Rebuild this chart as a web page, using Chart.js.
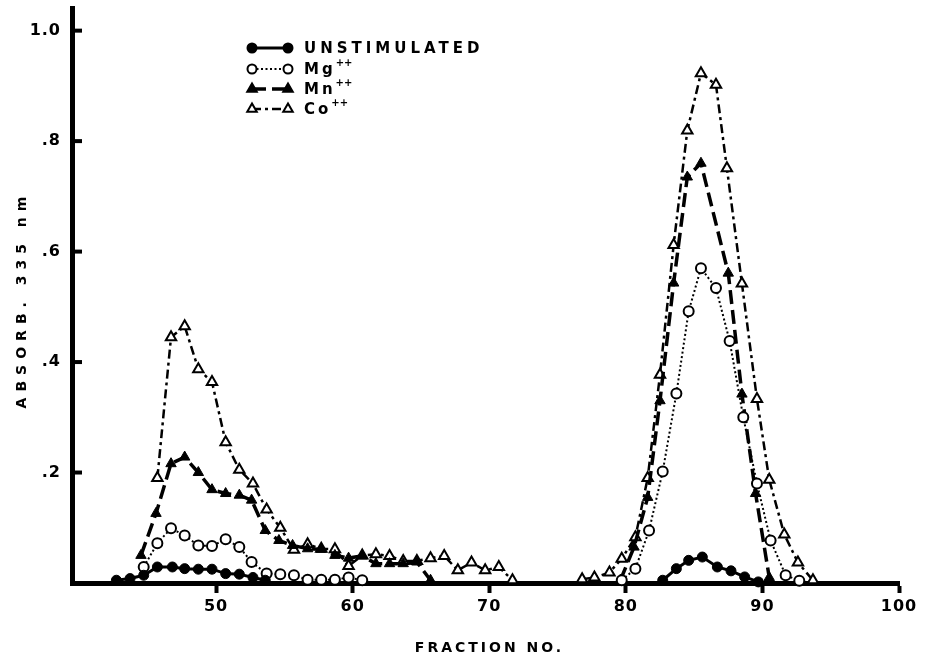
<!DOCTYPE html>
<html>
<head>
<meta charset="utf-8">
<script src="https://cdn.jsdelivr.net/npm/chart.js@4.4.1/dist/chart.umd.min.js"></script>
<style>
html, body { margin: 0; padding: 0; background: #fff; }
#wrap { width: 926px; height: 668px; position: relative; }
</style>
</head>
<body>
<div id="wrap"><canvas id="chart"></canvas></div>
<script>
// fraction numbers (null = gap in the curve)
const unstimFrac = [42.7, 43.7, 44.7, 45.7, 46.8, 47.7, 48.7, 49.7, 50.7, 51.7, 52.7, 53.6, 68,
    82.7, 83.7, 84.6, 85.6, 86.7, 87.7, 88.7, 89.7];
const unstimAbs = [0.005, 0.008, 0.014, 0.029, 0.029, 0.026, 0.025, 0.025, 0.017, 0.016, 0.01, 0.005, null,
    0.005, 0.026, 0.041, 0.047, 0.029, 0.022, 0.011, 0.002];

const mgFrac = [44.7, 45.7, 46.7, 47.7, 48.7, 49.7, 50.7, 51.7, 52.6, 53.7, 54.7, 55.7, 56.7, 57.7, 58.7, 59.7, 60.7, 70,
    79.7, 80.7, 81.7, 82.7, 83.7, 84.6, 85.5, 86.6, 87.6, 88.6, 89.6, 90.6, 91.7, 92.7];
const mgAbs = [0.029, 0.072, 0.099, 0.086, 0.068, 0.067, 0.079, 0.065, 0.038, 0.017, 0.016, 0.014, 0.006, 0.006, 0.006, 0.01, 0.005, null,
    0.005, 0.026, 0.095, 0.202, 0.343, 0.492, 0.57, 0.534, 0.438, 0.30, 0.18, 0.077, 0.014, 0.004];

const mnFrac = [44.5, 45.6, 46.7, 47.7, 48.7, 49.7, 50.7, 51.7, 52.6, 53.6, 54.6, 55.6, 56.7, 57.7, 58.7, 59.7, 60.7, 61.7, 62.7, 63.7, 64.7, 65.7, 72,
    79.6, 80.6, 81.6, 82.5, 83.5, 84.5, 85.5, 87.5, 88.5, 89.5, 90.5];
const mnAbs = [0.05, 0.126, 0.216, 0.228, 0.2, 0.169, 0.162, 0.159, 0.15, 0.095, 0.077, 0.068, 0.062, 0.061, 0.05, 0.045, 0.049, 0.035, 0.035, 0.035, 0.038, 0.005, null,
    0.005, 0.065, 0.155, 0.33, 0.543, 0.735, 0.76, 0.561, 0.342, 0.162, 0.01];

const coFrac = [45.7, 46.7, 47.7, 48.7, 49.7, 50.7, 51.7, 52.7, 53.7, 54.7, 55.7, 56.7, 57.7, 58.7, 59.7, 60.7, 61.7, 62.7, 63.7, 64.7, 65.7, 66.7, 67.7, 68.7, 69.7, 70.7, 71.7, 74,
    76.8, 77.7, 78.8, 79.7, 80.7, 81.6, 82.5, 83.5, 84.5, 85.5, 86.6, 87.4, 88.5, 89.6, 90.5, 91.6, 92.6, 93.7];
const coAbs = [0.19, 0.445, 0.465, 0.387, 0.364, 0.255, 0.205, 0.18, 0.133, 0.10, 0.06, 0.07, 0.062, 0.061, 0.031, 0.05, 0.052, 0.049, 0.04, 0.04, 0.045, 0.049, 0.023, 0.037, 0.023, 0.029, 0.005, null,
    0.007, 0.01, 0.019, 0.044, 0.083, 0.19, 0.377, 0.612, 0.819, 0.923, 0.902, 0.751, 0.542, 0.333, 0.187, 0.088, 0.037, 0.005];

const xTicks = [50, 60, 70, 80, 90, 100];
const yTicks = [0.2, 0.4, 0.6, 0.8, 1.0];
const yTickLabels = ['.2', '.4', '.6', '.8', '1.0'];
const legendLabels = ['UNSTIMULATED', 'Mg', 'Mn', 'Co'];
const legendSups = ['', '++', '++', '++'];

function toPoints(xs, ys) {
    return xs.map((x, i) => ({ x: x, y: ys[i] }));
}

function drawMark(ctx, style, filled, x, y, r) {
    ctx.beginPath();
    if (style === 'circle') {
        ctx.arc(x, y, r, 0, Math.PI * 2);
    } else {
        ctx.moveTo(x, y - r);
        ctx.lineTo(x + r * 0.866, y + r * 0.5);
        ctx.lineTo(x - r * 0.866, y + r * 0.5);
        ctx.closePath();
    }
    ctx.setLineDash([]);
    ctx.lineWidth = 2;
    ctx.fillStyle = filled ? '#000' : '#fff';
    ctx.strokeStyle = '#000';
    ctx.fill();
    ctx.stroke();
}

const decorations = {
    id: 'decorations',
    beforeDraw(chart) {
        chart.ctx.letterSpacing = '1px';
    },
    afterDraw(chart) {
        const ctx = chart.ctx;
        const area = chart.chartArea;
        const yScale = chart.scales.y;
        ctx.save();

        // tick marks on the y axis point inwards
        ctx.strokeStyle = '#000';
        ctx.lineWidth = 4;
        yTicks.forEach(v => {
            const py = yScale.getPixelForValue(v);
            ctx.beginPath();
            ctx.moveTo(area.left, py);
            ctx.lineTo(area.left + 10, py);
            ctx.stroke();
        });

        // axis titles
        ctx.fillStyle = '#000';
        ctx.textAlign = 'center';
        ctx.textBaseline = 'middle';
        ctx.font = 'bold 14px "DejaVu Sans"';
        ctx.letterSpacing = '3px';
        ctx.fillText('FRACTION NO.', (area.left + area.right) / 2 + 4, 648);
        ctx.save();
        ctx.translate(22, (area.top + area.bottom) / 2 + 4);
        ctx.rotate(-Math.PI / 2);
        ctx.letterSpacing = '6px';
        ctx.fillText('ABSORB. 335 nm', 0, 0);
        ctx.restore();

        // legend
        const rowY = [48, 69, 89, 109];
        chart.data.datasets.forEach((ds, i) => {
            const y = rowY[i];
            ctx.beginPath();
            ctx.setLineDash(ds.borderDash || []);
            ctx.lineWidth = ds.borderWidth;
            ctx.strokeStyle = '#000';
            ctx.moveTo(252, y);
            ctx.lineTo(288, y);
            ctx.stroke();
            const filled = ds.pointBackgroundColor === '#000';
            drawMark(ctx, ds.pointStyle, filled, 252, y, ds.pointStyle === 'circle' ? 4.5 : 5.5);
            drawMark(ctx, ds.pointStyle, filled, 288, y, ds.pointStyle === 'circle' ? 4.5 : 5.5);

            ctx.fillStyle = '#000';
            ctx.textAlign = 'left';
            ctx.font = 'bold 15px "DejaVu Sans"';
            ctx.letterSpacing = i === 0 ? '4px' : '3px';
            ctx.fillText(legendLabels[i], 304, y + 1);
            if (legendSups[i]) {
                const w = ctx.measureText(legendLabels[i]).width;
                ctx.font = 'bold 10px "DejaVu Sans"';
                ctx.letterSpacing = '0px';
                ctx.fillText(legendSups[i], 304 + w, y - 6);
            }
        });
        ctx.restore();
    }
};

const tickFont = { family: 'DejaVu Sans', size: 16, weight: 'bold' };

new Chart(document.getElementById('chart').getContext('2d'), {
    type: 'line',
    data: {
        datasets: [{
            label: 'UNSTIMULATED',
            data: toPoints(unstimFrac, unstimAbs),
            borderColor: '#000',
            borderWidth: 3,
            pointStyle: 'circle',
            pointRadius: 5,
            pointBackgroundColor: '#000',
            pointBorderColor: '#000',
            pointBorderWidth: 1
        }, {
            label: 'Mg++',
            data: toPoints(mgFrac, mgAbs),
            borderColor: '#000',
            borderWidth: 2,
            borderDash: [2, 2.5],
            pointStyle: 'circle',
            pointRadius: 5,
            pointBackgroundColor: '#fff',
            pointBorderColor: '#000',
            pointBorderWidth: 2
        }, {
            label: 'Mn++',
            data: toPoints(mnFrac, mnAbs),
            borderColor: '#000',
            borderWidth: 3.5,
            borderDash: [14, 6],
            pointStyle: 'triangle',
            pointRadius: 6,
            pointBackgroundColor: '#000',
            pointBorderColor: '#000',
            pointBorderWidth: 1
        }, {
            label: 'Co++',
            data: toPoints(coFrac, coAbs),
            borderColor: '#000',
            borderWidth: 2.5,
            borderDash: [9, 4, 3, 4],
            pointStyle: 'triangle',
            pointRadius: 6,
            pointBackgroundColor: '#fff',
            pointBorderColor: '#000',
            pointBorderWidth: 2
        }]
    },
    options: {
        responsive: true,
        maintainAspectRatio: false,
        animation: false,
        clip: false,
        layout: { padding: { top: 5, right: 27, left: 0, bottom: 0 } },
        elements: { line: { tension: 0 } },
        plugins: {
            legend: { display: false },
            tooltip: { enabled: false }
        },
        scales: {
            x: {
                type: 'linear',
                min: 39.45,
                max: 100,
                afterBuildTicks: s => { s.ticks = xTicks.map(v => ({ value: v })); },
                afterFit: s => { s.height = 85; s.paddingLeft = 0; s.paddingRight = 0; },
                grid: { display: true, drawOnChartArea: false, drawTicks: true, tickLength: 10, tickWidth: 4, tickColor: '#000', color: '#000' },
                border: { display: true, color: '#000', width: 5 },
                ticks: { color: '#000', font: tickFont, padding: 4, maxRotation: 0, autoSkip: false }
            },
            y: {
                type: 'linear',
                min: 0,
                max: 1.041,
                afterBuildTicks: s => { s.ticks = yTicks.map(v => ({ value: v })); },
                afterFit: s => { s.width = 72; s.paddingTop = 0; s.paddingBottom = 0; },
                grid: { display: false, drawTicks: false },
                border: { display: true, color: '#000', width: 5 },
                ticks: {
                    color: '#000',
                    font: tickFont,
                    padding: 11,
                    callback: (value, index) => yTickLabels[index]
                }
            }
        }
    },
    plugins: [decorations]
});
</script>
</body>
</html>
